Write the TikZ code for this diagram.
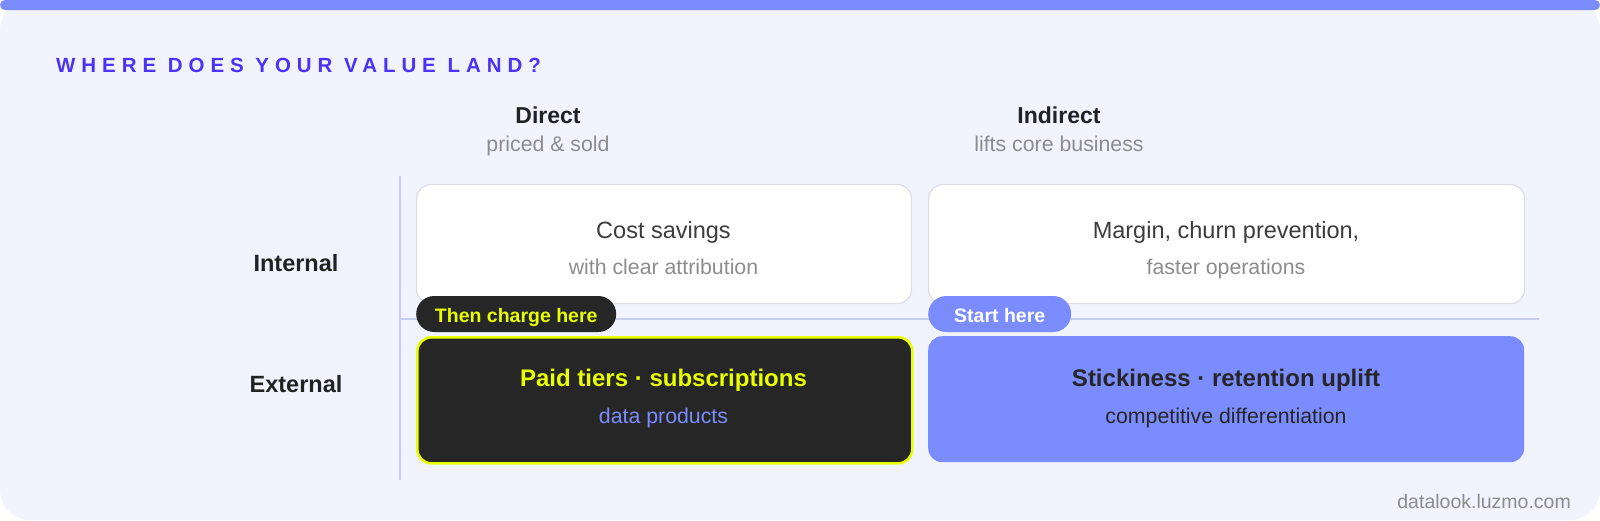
\documentclass[tikz,border=0pt]{standalone}
\usepackage{fontspec}
\setmainfont{Liberation Sans}

\definecolor{cardbg}{HTML}{F1F4FE}
\definecolor{accent}{HTML}{7B8CFF}
\definecolor{titleblue}{HTML}{4B32F8}
\definecolor{darkcell}{HTML}{262626}
\definecolor{lime}{HTML}{E8FF00}
\definecolor{cellline}{HTML}{DCDCE4}
\definecolor{axisline}{HTML}{C9CDF3}
\definecolor{softgray}{HTML}{8C8C8C}
\definecolor{inktext}{HTML}{3C3C3C}
\definecolor{headtext}{HTML}{222222}

\begin{document}
\begin{tikzpicture}[x=1pt,y=-1pt,
    cell/.style={rounded corners=14pt, minimum width=495pt, minimum height=119pt, anchor=north west, inner sep=0pt},
    widecell/.style={cell, minimum width=596pt},
    pill/.style={rounded corners=18pt, minimum height=36pt, inner sep=0pt, anchor=west, font=\fontsize{19.5}{22}\selectfont\bfseries},
    headline/.style={anchor=base, font=\fontsize{23}{26}\selectfont\bfseries, text=headtext},
    subline/.style={anchor=base, font=\fontsize{21.3}{24}\selectfont, text=softgray},
    rowlabel/.style={anchor=base, font=\fontsize{23.5}{26}\selectfont\bfseries, text=headtext},
    maintext/.style={anchor=base, font=\fontsize{23.5}{26}\selectfont},
    boldtext/.style={anchor=base, font=\fontsize{24}{26}\selectfont\bfseries}]
  \useasboundingbox (0,0) rectangle (1600,520);
  % card and top bar
  \fill[white] (0,0) rectangle (1600,520);
  \fill[cardbg, rounded corners=30pt] (0,0) rectangle (1600,520);
  \fill[accent, rounded corners=5pt] (0,0) rectangle (1600,10);

  \node[anchor=base west, inner sep=0pt, text=titleblue,
        font=\fontsize{20.5}{22}\selectfont\bfseries\addfontfeature{LetterSpace=29}] (title) at (56,72) {WHERE DOES YOUR VALUE LAND?};

  % column heads
  \node[headline] (direct) at (548,123) {Direct};
  \node[subline] (directsub) at (548,151) {priced \& sold};
  \node[headline] (indirect) at (1059,123) {Indirect};
  \node[subline] (indirectsub) at (1059,151) {lifts core business};

  % row heads
  \node[rowlabel] (internal) at (296,271) {Internal};
  \node[rowlabel] (external) at (296,392) {External};

  % axes
  \coordinate (vtop) at (400,176);
  \coordinate (vbot) at (400,480);
  \coordinate (hleft) at (400,319);
  \coordinate (hright) at (1539,319);
  \draw[axisline, line width=1.6pt] (vtop) -- (vbot);
  \draw[axisline, line width=1.6pt] (hleft) -- (hright);

  % quadrants
  \node[cell, fill=white, draw=cellline, line width=1.2pt] (cost) at (416,184) {};
  \node[widecell, fill=white, draw=cellline, line width=1.2pt] (margin) at (928,184) {};
  \node[cell, fill=darkcell, draw=lime, line width=2.6pt, minimum height=126pt] (paid) at (416,336) {};
  \node[widecell, fill=accent, minimum height=126pt] (sticky) at (928,336) {};

  \node[maintext, text=inktext] (costA) at (663.5,238) {Cost savings};
  \node[subline] (costB) at (663.5,274) {with clear attribution};
  \node[maintext, text=inktext] (marginA) at (1226,238) {Margin, churn prevention,};
  \node[subline] (marginB) at (1226,274) {faster operations};
  \node[boldtext, text=lime] (paidA) at (663.5,386) {Paid tiers · subscriptions};
  \node[subline, text=accent] (paidB) at (663.5,423) {data products};
  \node[boldtext, text=darkcell] (stickyA) at (1226,386) {Stickiness · retention uplift};
  \node[subline, text=darkcell] (stickyB) at (1226,423) {competitive differentiation};

  % markers
  \node[pill, fill=darkcell, text=lime, minimum width=200pt, text depth=0pt, text height=17pt] (charge) at (416,314) {Then charge here};
  \node[pill, fill=accent, text=white, minimum width=143pt, text depth=0pt, text height=17pt] (start) at (928,314) {Start here};

  \node[anchor=base east, inner sep=0pt, text=softgray, font=\fontsize{19.5}{22}\selectfont] (site) at (1571,508) {datalook.luzmo.com};
\end{tikzpicture}
\end{document}
